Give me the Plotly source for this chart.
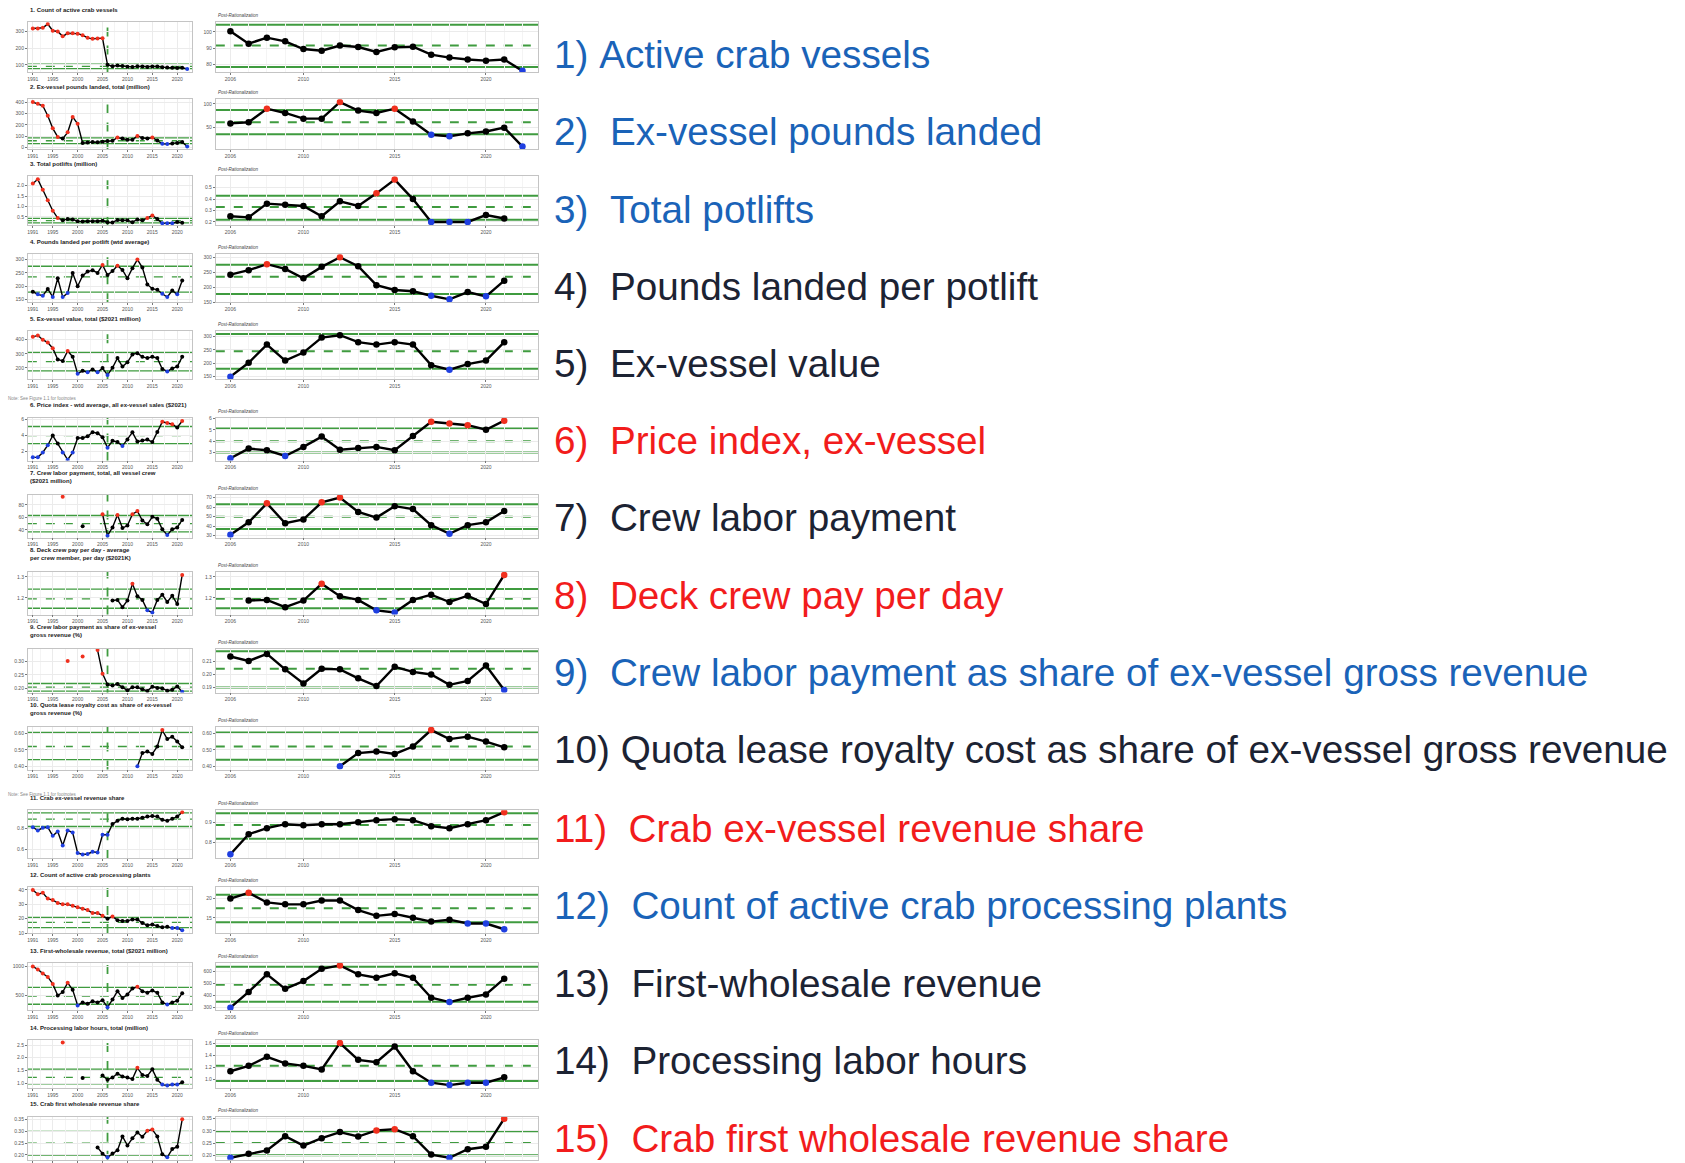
import plotly.graph_objects as go

W, H = 1685, 1163
S = W / 1568  # layout was measured on a 1568 px wide copy

YEARS = list(range(1991, 2023))
LEFT_XTICKS = [1991, 1995, 2000, 2005, 2010, 2015, 2020]
RIGHT_XTICKS = [2006, 2010, 2015, 2020]
RATIONALIZATION = 2006
_ = None

BLUE, DARK, RED = "#1a63b8", "#1c2333", "#f21c1c"
GREEN = "#3f9b3f"
PT_RED, PT_BLUE, PT_BLACK = "#f0301e", "#1f3fe0", "#000000"

# series 1991..2022  (None = no data)
vessels = [318, 318, 322, 344, 304, 300, 271, 289, 289, 287, 278, 262, 256, 258, 260,
           100.5, 92.8, 96.5, 94.2, 89.5, 88.4, 91.6, 90.7, 87.7, 90.5, 90.9, 86, 84.2, 83, 82.3, 83, 76]
pounds_landed = [400, 385, 368, 280, 170, 95, 80, 135, 270, 210, 42, 45, 50, 48, 53,
                 59, 61.5, 90, 81, 69, 69, 104, 86, 81, 90, 63, 35, 32, 38, 42, 50, 10]
potlifts = [2.1, 2.3, 1.8, 1.3, 0.8, 0.45, 0.35, 0.4, 0.38, 0.3, 0.28, 0.3, 0.3, 0.3, 0.32,
            0.25, 0.24, 0.36, 0.35, 0.34, 0.25, 0.38, 0.34, 0.45, 0.57, 0.40, 0.20, 0.20, 0.20, 0.26, 0.23, _]
lbs_per_potlift = [180, 170, 165, 190, 160, 230, 160, 175, 250, 200, 240, 255, 260, 250, 280,
                   242, 257, 277, 261, 230, 268, 300, 270, 207, 191, 187, 172, 160, 184, 170, 222, _]
ex_vessel_value = [420, 430, 400, 380, 340, 260, 250, 320, 280, 160, 180, 170, 190, 170, 200,
                   150, 202, 270, 210, 240, 296, 305, 279, 270, 279, 270, 193, 176, 197, 210, 279, _]
price_index = [1.3, 1.3, 1.9, 2.8, 4.0, 3.0, 1.9, 1.0, 1.9, 3.7, 3.7, 3.9, 4.4, 4.3, 3.8,
               2.5, 3.35, 3.2, 2.7, 3.5, 4.4, 3.25, 3.4, 3.5, 3.2, 4.45, 5.7, 5.55, 5.4, 5.0, 5.8, _]
crew_payment = [_, _, _, _, _, _, 93, _, _, _, 46, _, _, _, 65,
                31, 44, 64, 43, 47, 65, 70, 55, 49, 61, 58, 41, 32, 41, 44, 56, _]
deck_pay = [_, _, _, _, _, _, _, _, _, _, _, _, _, _, _, _,
            1.187, 1.19, 1.155, 1.187, 1.267, 1.208, 1.19, 1.14, 1.13, 1.19, 1.215, 1.18, 1.21, 1.17, 1.31, _]
crew_share = [_, _, _, _, _, _, _, 0.30, _, _, 0.317, _, _, 0.34, 0.254,
              0.214, 0.2105, 0.216, 0.204, 0.193, 0.2045, 0.204, 0.197, 0.191, 0.206, 0.202, 0.200,
              0.192, 0.195, 0.207, 0.188, _]
quota_share = [_, _, _, _, _, _, _, _, _, _, _, _, _, _, _, _, _, _, _, _, _,
               0.40, 0.48, 0.49, 0.475, 0.52, 0.62, 0.565, 0.58, 0.55, 0.515, _]
crab_rev_share = [0.81, 0.78, 0.805, 0.81, 0.73, 0.77, 0.64, 0.78, 0.76, 0.57, 0.555, 0.56, 0.58, 0.575,
                  0.74, 0.74, 0.84, 0.87, 0.89, 0.885, 0.89, 0.89, 0.90, 0.91, 0.915, 0.91, 0.88, 0.87,
                  0.89, 0.91, 0.95, _]
processing_plants = [40, 37, 38, 34, 33, 31, 30, 30, 29, 28, 27, 26, 24, 24, 22,
                     20, 21.5, 19, 18.5, 18.5, 19.5, 19.5, 17, 15.5, 16, 15, 14, 14.5, 13.5, 13.5, 12, _]
first_wholesale = [1000, 950, 880, 820, 700, 500, 560, 720, 600, 330, 380, 360, 400, 380, 420,
                   300, 430, 576, 456, 520, 622, 650, 576, 548, 585, 548, 382, 346, 382, 410, 540, _]
processing_hours = [_, _, _, _, _, _, 2.6, _, _, _, 1.2, _, _, _, 1.3,
                    1.13, 1.22, 1.37, 1.26, 1.22, 1.16, 1.6, 1.32, 1.28, 1.54, 1.13, 0.94, 0.9,
                    0.94, 0.94, 1.03, _]
wholesale_share = [_, _, _, _, _, _, _, _, _, _, _, _, _, 0.232, 0.205,
                   0.19, 0.206, 0.22, 0.278, 0.24, 0.27, 0.295, 0.277, 0.302, 0.307, 0.278, 0.203,
                   0.19, 0.225, 0.235, 0.35, _]

# control limits (lower, mean, upper) of the post-rationalization period
limits = [
    (78.4, 91.6, 104.5), (36, 61.5, 87), (0.22, 0.33, 0.43), (178, 235, 275), (180, 245, 310),
    (3.0, 4.0, 5.12), (37, 50, 63), (1.15, 1.195, 1.242), (0.19, 0.2045, 0.218), (0.44, 0.52, 0.605),
    (0.817, 0.886, 0.945), (13.8, 17.5, 21), (350, 490, 640), (0.97, 1.22, 1.55), (0.20, 0.25, 0.299),
]

titles = [
    "1. Count of active crab vessels",
    "2. Ex-vessel pounds landed, total (million)",
    "3. Total potlifts (million)",
    "4. Pounds landed per potlift (wtd average)",
    "5. Ex-vessel value, total ($2021 million)",
    "6. Price index - wtd average, all ex-vessel sales ($2021)",
    "7. Crew labor payment, total, all vessel crew<br>($2021 million)",
    "8. Deck crew pay per day - average<br>per crew member, per day ($2021K)",
    "9. Crew labor payment as share of ex-vessel<br>gross revenue (%)",
    "10. Quota lease royalty cost as share of ex-vessel<br>gross revenue (%)",
    "11. Crab ex-vessel revenue share",
    "12. Count of active crab processing plants",
    "13. First-wholesale revenue, total ($2021 million)",
    "14. Processing labor hours, total (million)",
    "15. Crab first wholesale revenue share",
]
SP = "\u00a0"
labels = [
    "1)" + SP + "Active crab vessels",
    "2)" + SP * 2 + "Ex-vessel pounds landed",
    "3)" + SP * 2 + "Total potlifts",
    "4)" + SP * 2 + "Pounds landed per potlift",
    "5)" + SP * 2 + "Ex-vessel value",
    "6)" + SP * 2 + "Price index, ex-vessel",
    "7)" + SP * 2 + "Crew labor payment",
    "8)" + SP * 2 + "Deck crew pay per day",
    "9)" + SP * 2 + "Crew labor payment as share of ex-vessel gross revenue",
    "10)" + SP + "Quota lease royalty cost as share of ex-vessel gross revenue",
    "11)" + SP * 2 + "Crab ex-vessel revenue share",
    "12)" + SP * 2 + "Count of active crab processing plants",
    "13)" + SP * 2 + "First-wholesale revenue",
    "14)" + SP * 2 + "Processing labor hours",
    "15)" + SP * 2 + "Crab first wholesale revenue share",
]
label_colors = [BLUE, BLUE, BLUE, DARK, DARK, RED, DARK, RED, BLUE, DARK, RED, BLUE, DARK, DARK, RED]

# y ticks: (left, right)
yticks = [
    ([100, 200, 300], [80, 90, 100]),
    ([0, 100, 200, 300, 400], [50, 100]),
    ([0.5, 1.0, 1.5, 2.0], [0.2, 0.3, 0.4, 0.5]),
    ([150, 200, 250, 300], [150, 200, 250, 300]),
    ([200, 300, 400], [150, 200, 250, 300]),
    ([2, 4, 6], [3, 4, 5, 6]),
    ([40, 60, 80], [30, 40, 50, 60, 70]),
    ([1.2, 1.3], [1.2, 1.3]),
    ([0.20, 0.25, 0.30], [0.19, 0.20, 0.21]),
    ([0.40, 0.50, 0.60], [0.40, 0.50, 0.60]),
    ([0.6, 0.8], [0.8, 0.9]),
    ([10, 20, 30, 40], [15, 20]),
    ([500, 1000], [300, 400, 500, 600]),
    ([1.0, 1.5, 2.0, 2.5], [1.0, 1.2, 1.4, 1.6]),
    ([0.20, 0.25, 0.30, 0.35], [0.20, 0.25, 0.30, 0.35]),
]
tick_fmt = ["", "", ".1f", "", "", "", "", ".1f", ".2f", ".2f", ".1f", "", "", ".1f", ".2f"]

# axis ranges (left, right)
yranges = [
    ([55, 355], [75, 106]), ([-15, 425], [4, 110]), ([0.1, 2.45], [0.17, 0.6]),
    ([140, 320], [150, 310]), ([120, 460], [140, 320]), ([0.9, 6.2], [2.3, 6.05]),
    ([28, 96], [28, 73]), ([1.12, 1.325], [1.12, 1.325]), ([0.185, 0.345], [0.186, 0.22]),
    ([0.38, 0.64], [0.38, 0.64]), ([0.52, 0.97], [0.72, 0.96]), ([10, 42], [11, 23]),
    ([250, 1060], [280, 670]), ([0.8, 2.7], [0.85, 1.65]), ([0.18, 0.36], [0.182, 0.357]),
]

series = [vessels, pounds_landed, potlifts, lbs_per_potlift, ex_vessel_value, price_index,
          crew_payment, deck_pay, crew_share, quota_share, crab_rev_share, processing_plants,
          first_wholesale, processing_hours, wholesale_share]

# panel geometry, px from top on the 1568-wide copy
plot_top = [18, 90, 162, 235, 307, 388, 460, 532, 604, 677, 755, 827, 898, 970, 1042]
plot_bot = [65, 137, 208, 280, 352, 428, 500, 572, 645, 717, 800, 870, 942, 1015, 1082]
label_y = [48, 120, 193, 265, 337, 409, 481, 554, 626, 698, 772, 844, 917, 989, 1062]
LEFT_X, RIGHT_X = (25, 178), (200, 500)


def fx(px):
    return px / 1568


def fy(px):
    return max(0.0, 1 - px * S / H)


def point_colors(vals, lim):
    lo, _m, hi = lim
    out = []
    for v in vals:
        if v is None:
            out.append(PT_BLACK)
        elif v > hi:
            out.append(PT_RED)
        elif v < lo:
            out.append(PT_BLUE)
        else:
            out.append(PT_BLACK)
    return out


fig = go.Figure()
annotations = []
shapes = []
axis_font = dict(size=5, color="#555555", family="Liberation Sans, Arial")
last = len(series) - 1

for i, vals in enumerate(series):
    lim = limits[i]
    kl, kr = 2 * i + 1, 2 * i + 2
    post_years = [y for y, v in zip(YEARS, vals) if y >= RATIONALIZATION]
    post_vals = [v for y, v in zip(YEARS, vals) if y >= RATIONALIZATION]
    panels = [
        (kl, YEARS, vals, LEFT_X, [1990, 2023], LEFT_XTICKS, 4, 1.4, yranges[i][0], yticks[i][0]),
        (kr, post_years, post_vals, RIGHT_X, [2005.2, 2022.85], RIGHT_XTICKS, 6.5, 2.4,
         yranges[i][1], yticks[i][1]),
    ]
    for k, xs, ys, xdom, xr, xt, msize, lw, yr, yt in panels:
        sfx = "" if k == 1 else str(k)
        fig.add_trace(go.Scatter(
            x=xs, y=ys, mode="lines+markers", xaxis="x" + sfx, yaxis="y" + sfx,
            line=dict(color="black", width=lw), connectgaps=False,
            marker=dict(size=msize, color=point_colors(ys, lim)),
            hoverinfo="x+y",
        ))
        common = dict(showline=True, mirror=True, linecolor="#c4c4c4", linewidth=0.8,
                      showgrid=True, gridcolor="#ebebeb", gridwidth=0.7, zeroline=False,
                      ticks="outside", ticklen=2, tickcolor="#777777", tickfont=axis_font)
        fig.layout["xaxis" + sfx] = dict(
            domain=[fx(xdom[0]), fx(xdom[1])], anchor="y" + sfx, range=xr,
            tickvals=xt, ticktext=[str(v) for v in xt], showticklabels=(i != last),
            minor=dict(showgrid=True, gridcolor="#f4f4f4", dtick=2.5 if k == kl else 1), **common)
        fig.layout["yaxis" + sfx] = dict(
            domain=[fy(plot_bot[i]), fy(plot_top[i])], anchor="x" + sfx, range=yr,
            tickvals=yt, tickformat=tick_fmt[i], **common)
        for val, dash in zip(lim, ["solid", "dash", "solid"]):
            shapes.append(dict(type="line", xref=f"x{sfx} domain", yref="y" + sfx,
                               x0=0, x1=1, y0=val, y1=val, layer="below",
                               line=dict(color=GREEN, width=2 if k == kr else 1.3, dash=dash)))
    shapes.append(dict(type="line", xref="x" + str(kl) if kl > 1 else "x",
                       yref=f"y{kl if kl > 1 else ''} domain",
                       x0=RATIONALIZATION, x1=RATIONALIZATION, y0=0, y1=1, layer="below",
                       line=dict(color=GREEN, width=1.8, dash="dash")))

    # panel titles
    two_line = "<br>" in titles[i]
    annotations.append(dict(
        text="<b>" + titles[i].replace("<br>", "</b><br><b>") + "</b>",
        x=fx(25), y=fy(plot_top[i] - (8 if two_line else 7)), xref="paper", yref="paper",
        xanchor="left", yanchor="bottom", showarrow=False, align="left",
        font=dict(size=6, color="#222222", family="Liberation Sans, Arial")))
    annotations.append(dict(
        text="<i>Post-Rationalization</i>", x=fx(200), y=fy(plot_top[i] - 2),
        xref="paper", yref="paper", xanchor="left", yanchor="bottom", showarrow=False,
        font=dict(size=4.5, color="#444444", family="Liberation Sans, Arial")))
    annotations.append(dict(
        text=labels[i], x=fx(513), y=fy(label_y[i]), xref="paper", yref="paper",
        xanchor="left", yanchor="middle", showarrow=False,
        font=dict(size=38.7, color=label_colors[i], family="Liberation Sans, Arial")))

for ny in (370, 740):
    annotations.append(dict(
        text="Note: See Figure 1.1 for footnotes", x=fx(5), y=fy(ny), xref="paper", yref="paper",
        xanchor="left", yanchor="middle", showarrow=False,
        font=dict(size=4.5, color="#888888", family="Liberation Sans, Arial")))

fig.update_layout(
    width=W, height=H, margin=dict(l=0, r=0, t=0, b=0),
    paper_bgcolor="white", plot_bgcolor="white", showlegend=False,
    annotations=annotations, shapes=shapes,
)
fig.write_html(
    "out.html",
    config={"displayModeBar": False},
    post_script="document.body.style.margin='0';document.body.style.overflow='hidden';",
)
